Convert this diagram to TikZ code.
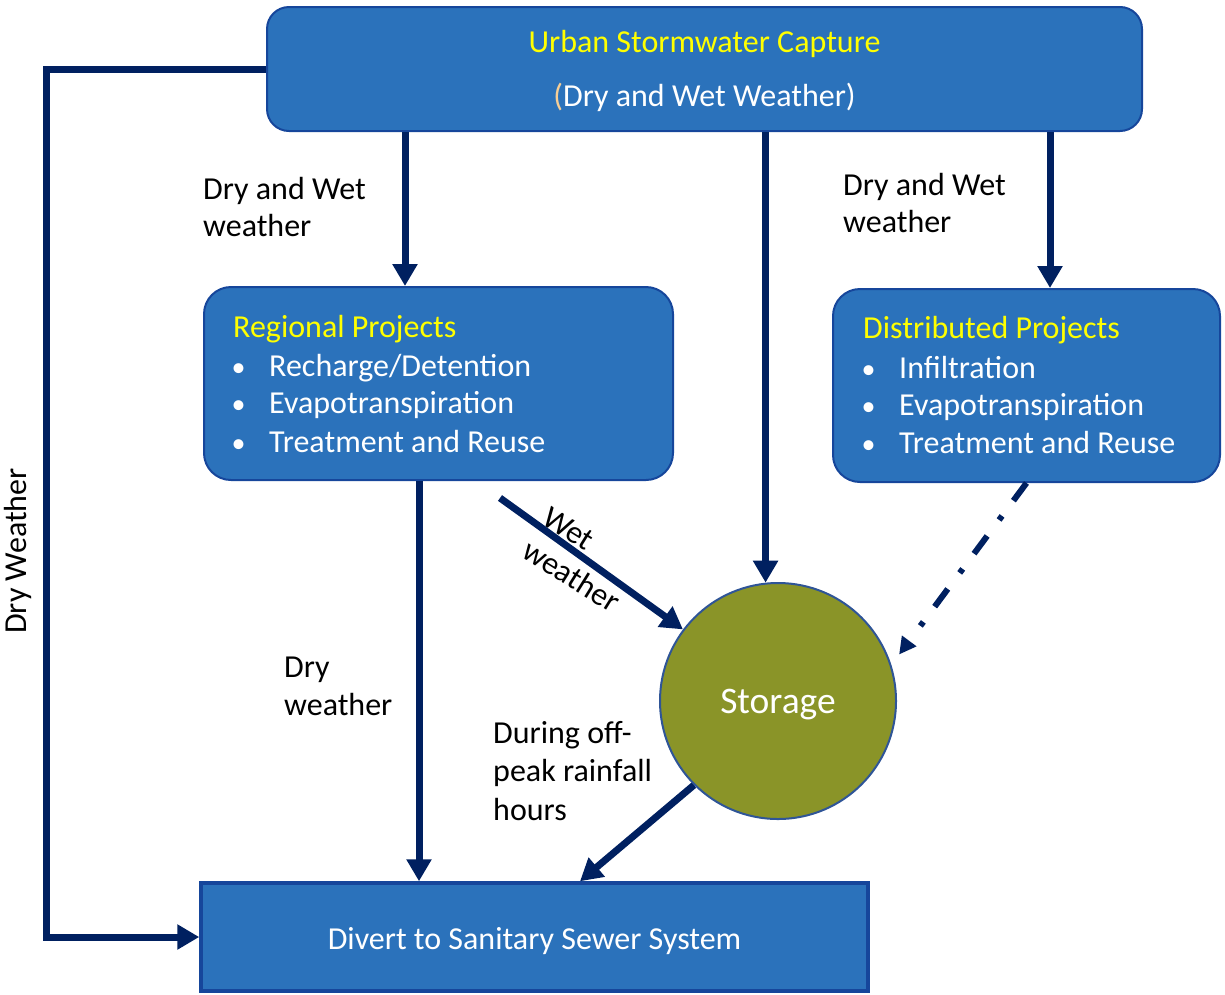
\documentclass[tikz,border=0pt]{standalone}
\usepackage{fontspec}
\setmainfont{Carlito}
\usetikzlibrary{arrows.meta,calc}
\definecolor{boxfill}{RGB}{43,114,187}
\definecolor{boxline}{RGB}{22,70,155}
\definecolor{navy}{RGB}{0,32,96}
\definecolor{olivefill}{RGB}{138,148,40}
\definecolor{ylw}{RGB}{255,255,0}
\definecolor{paren}{RGB}{246,206,150}
\definecolor{circline}{RGB}{47,85,151}
\tikzset{
  rbox/.style={draw=boxline, line width=2pt, fill=boxfill, inner sep=0pt, rounded corners=27pt},
  flow/.style={draw=navy, line width=7pt, -{Triangle[width=24pt,length=22pt]}},
  dashflow/.style={draw=navy, line width=6pt, dash pattern=on 22pt off 19pt on 5pt off 20pt, -{Triangle[width=17pt,length=17pt]}},
  txt/.style={inner sep=0pt, font={\fontsize{32}{38}\selectfont}, text=black},
  wtxt/.style={txt, text=white},
  ytxt/.style={txt, text=ylw},
  bul/.style={wtxt, font={\fontsize{28}{34}\selectfont}},
}
\begin{document}
\begin{tikzpicture}[x=1pt,y=-1pt]
\useasboundingbox (0,0) rectangle (1225,994);
% boxes
\node[rbox, rounded corners=22pt, minimum width=875pt, minimum height=124pt] (top) at (704.5,69) {};
\node[rbox, minimum width=469pt, minimum height=193pt] (reg) at (438.5,383.5) {};
\node[rbox, minimum width=387pt, minimum height=193pt] (dist) at (1026.5,385.5) {};
\node[circle, draw=circline, line width=2pt, fill=olivefill, minimum size=236pt, inner sep=0pt,
      font={\fontsize{37.5}{42}\selectfont}, text=white, text height=24pt, text depth=0pt] (st) at (778,701) {Storage};
\node[draw=boxline, line width=3.5pt, fill=boxfill, minimum width=667pt, minimum height=108pt, inner sep=0pt,
      font={\fontsize{32}{38}\selectfont}, text=white, text height=24pt, text depth=0pt] (bot) at (534.5,937) {Divert to Sanitary Sewer System};
% top box text
\node[ytxt, anchor=base] (t1) at (704.5,52) {Urban Stormwater Capture};
\node[wtxt, anchor=base] (t2) at (704.5,106) {\textcolor{paren}{(}Dry and Wet Weather)};
% regional text
\node[ytxt, anchor=base west] (r0) at (233,337) {Regional Projects};
\node[bul, anchor=base] (rb1) at (238.5,376) {•};
\node[bul, anchor=base] (rb2) at (238.5,413) {•};
\node[bul, anchor=base] (rb3) at (238.5,452) {•};
\node[wtxt, anchor=base west] (r1) at (269,376) {Recharge/Detention};
\node[wtxt, anchor=base west] (r2) at (269,413) {Evapotranspiration};
\node[wtxt, anchor=base west] (r3) at (269,452) {Treatment and Reuse};
% distributed text
\node[ytxt, anchor=base west] (d0) at (863,338) {Distributed Projects};
\node[bul, anchor=base] (db1) at (868.5,378) {•};
\node[bul, anchor=base] (db2) at (868.5,415) {•};
\node[bul, anchor=base] (db3) at (868.5,453) {•};
\node[wtxt, anchor=base west] (d1) at (899,378) {Infiltration};
\node[wtxt, anchor=base west] (d2) at (899,415) {Evapotranspiration};
\node[wtxt, anchor=base west] (d3) at (899,453) {Treatment and Reuse};
% labels
\node[txt, anchor=base west] (l1a) at (203,199) {Dry and Wet};
\node[txt, anchor=base west] (l1b) at (203,236) {weather};
\node[txt, anchor=base west] (l2a) at (843,195) {Dry and Wet};
\node[txt, anchor=base west] (l2b) at (843,232) {weather};
\node[txt, anchor=base west] (l3a) at (284,677) {Dry};
\node[txt, anchor=base west] (l3b) at (284,715) {weather};
\node[txt, anchor=base west] (l4a) at (493,743) {During off-};
\node[txt, anchor=base west] (l4b) at (493,781) {peak rainfall};
\node[txt, anchor=base west] (l4c) at (493,820) {hours};
\node[txt, anchor=base west, rotate=90] (l5) at (27,634) {Dry Weather};
\node[txt, anchor=base west, rotate=-32] (l6a) at (540,523) {Wet};
\node[txt, anchor=base west, rotate=-32] (l6b) at (520,556) {weather};
% helper coordinates
\coordinate (xa) at (405,0);
\coordinate (xr) at (419,0);
\coordinate (xd) at (1050,0);
\coordinate (xs) at (580,0);
\coordinate (w0) at (500,498);
\coordinate (dd) at ($(st.center)!1.09!(st.21)$);
% connectors
\draw[flow] (top.west) -- ++(-220,0) |- (bot.west);
\draw[flow] (top.south -| xa) -- (reg.north -| xa);
\draw[flow] (top.south -| st.96) -- (st.96);
\draw[flow] (top.south -| xd) -- (dist.north -| xd);
\draw[flow] (reg.south -| xr) -- (bot.north -| xr);
\draw[flow] (w0) -- (st.143);
\draw[flow] (st.225) -- (bot.north -| xs);
\draw[dashflow] (dist.south) -- (dd);
\end{tikzpicture}
\end{document}
